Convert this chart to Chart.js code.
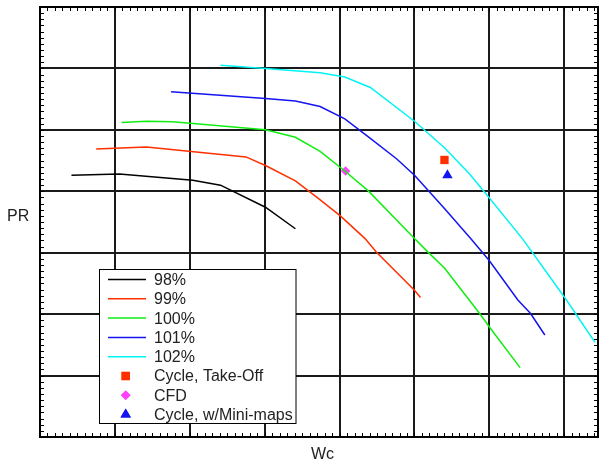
<!DOCTYPE html>
<html>
<head>
<meta charset="utf-8">
<script src="https://cdn.jsdelivr.net/npm/chart.js@4"></script>
<style>
    body { margin: 0; background: #fff; }
    canvas { display: block; }
</style>
</head>
<body>
<canvas id="mapChart" width="604" height="465"></canvas>
<script>
// speed lines (Wc, PR in grid units)
const speedLabels = ['98%', '99%', '100%', '101%', '102%'];
const speedColors = ['#000000', '#ff3000', '#10ee10', '#1414f0', '#00f4f4'];

const wc98 = [0.42, 1.06, 2.04, 2.41, 3.01, 3.41];
const pr98 = [4.26, 4.28, 4.18, 4.10, 3.74, 3.39];

const wc99 = [0.75, 1.42, 2.75, 3.01, 3.41, 3.72, 4.01, 4.34, 4.49, 5.00, 5.08];
const pr99 = [4.69, 4.72, 4.56, 4.42, 4.17, 3.88, 3.60, 3.23, 3.01, 2.39, 2.27];

const wc100 = [1.09, 1.42, 1.77, 3.01, 3.41, 3.74, 4.07, 4.38, 5.00, 5.18, 5.40, 5.87, 6.00, 6.41];
const pr100 = [5.12, 5.14, 5.13, 5.00, 4.88, 4.65, 4.33, 4.01, 3.23, 3.01, 2.75, 2.01, 1.79, 1.13];

const wc101 = [1.75, 3.01, 3.41, 3.74, 4.07, 4.38, 4.76, 5.00, 5.40, 5.75, 6.00, 6.38, 6.55, 6.74];
const pr101 = [5.62, 5.51, 5.47, 5.38, 5.18, 4.89, 4.53, 4.26, 3.72, 3.23, 2.87, 2.23, 2.01, 1.66];

const wc102 = [2.41, 3.01, 3.74, 4.07, 4.41, 5.00, 5.40, 5.73, 6.00, 6.44, 6.57, 7.00, 7.15, 7.41];
const pr102 = [6.05, 6.00, 5.93, 5.86, 5.69, 5.14, 4.71, 4.29, 3.89, 3.23, 3.01, 2.28, 2.01, 1.54];

// single operating points
const pointLabels = ['Cycle, Take-Off', 'CFD', 'Cycle, w/Mini-maps'];
const pointWc = [5.40, 4.08, 5.44];
const pointPr = [4.51, 4.33, 4.26];

const speedWc = [wc98, wc99, wc100, wc101, wc102];
const speedPr = [pr98, pr99, pr100, pr101, pr102];

const toPoints = (xs, ys) => xs.map((x, i) => ({x: x, y: ys[i]}));

const datasets = [];
for (let i = 0; i < speedLabels.length; i++) {
    datasets.push({
        label: speedLabels[i],
        data: toPoints(speedWc[i], speedPr[i]),
        borderColor: speedColors[i],
        borderWidth: 1.5,
        pointRadius: 0,
        showLine: true,
        tension: 0,
    });
}
const pointStyles = [
    {style: 'rect', color: '#ff3000', radius: 5.9},
    {style: 'rectRot', color: '#ff40ff', radius: 4.8},
    {style: 'triangle', color: '#1414f0', radius: 6},
];
for (let i = 0; i < pointLabels.length; i++) {
    datasets.push({
        label: pointLabels[i],
        data: [{x: pointWc[i], y: pointPr[i]}],
        showLine: false,
        pointStyle: pointStyles[i].style,
        pointRadius: pointStyles[i].radius,
        pointBackgroundColor: pointStyles[i].color,
        pointBorderWidth: 0,
        borderColor: pointStyles[i].color,
    });
}

// frame, minor ticks, axis titles and the boxed legend
const mapDecor = {
    id: 'mapDecor',
    afterDraw(chart) {
        const ctx = chart.ctx;
        const a = chart.chartArea;
        const xs = chart.scales.x;
        const ys = chart.scales.y;
        ctx.save();

        ctx.strokeStyle = '#000';
        ctx.lineWidth = 1;
        ctx.beginPath();
        for (let v = 1; v < 74.5; v++) {
            const px = Math.round(xs.getPixelForValue(v / 10)) + 0.5;
            ctx.moveTo(px, a.bottom);
            ctx.lineTo(px, a.bottom - 4);
            ctx.moveTo(px, a.top);
            ctx.lineTo(px, a.top + 4);
        }
        for (let v = 1; v < 70; v++) {
            const py = Math.round(ys.getPixelForValue(v / 10)) + 0.5;
            ctx.moveTo(a.left, py);
            ctx.lineTo(a.left + 4, py);
            ctx.moveTo(a.right, py);
            ctx.lineTo(a.right - 4, py);
        }
        ctx.stroke();

        ctx.lineWidth = 2;
        ctx.strokeRect(a.left, a.top, a.right - a.left, a.bottom - a.top);

        ctx.fillStyle = '#222';
        ctx.font = '16px "Liberation Sans", Arial, sans-serif';
        ctx.textBaseline = 'middle';
        ctx.textAlign = 'left';
        ctx.fillText('PR', 7, 217);
        ctx.textAlign = 'center';
        ctx.fillText('Wc', 322.5, 454.5);

        // legend
        const box = {x: 99.5, y: 269.5, w: 196.5, h: 154};
        ctx.fillStyle = '#fff';
        ctx.fillRect(box.x, box.y, box.w, box.h);
        ctx.lineWidth = 1;
        ctx.strokeStyle = '#000';
        ctx.strokeRect(box.x, box.y, box.w, box.h);
        ctx.textAlign = 'left';
        chart.data.datasets.forEach((ds, i) => {
            const cy = 279.5 + i * 19.3;
            if (ds.showLine) {
                ctx.strokeStyle = ds.borderColor;
                ctx.lineWidth = 1.5;
                ctx.beginPath();
                ctx.moveTo(108, cy);
                ctx.lineTo(146, cy);
                ctx.stroke();
            } else {
                ctx.fillStyle = ds.pointBackgroundColor;
                Chart.helpers.drawPoint(ctx, {
                    pointStyle: ds.pointStyle,
                    radius: ds.pointRadius,
                    rotation: 0,
                    borderWidth: 0,
                }, 125.7, cy);
                ctx.fill();
            }
            ctx.fillStyle = '#222';
            ctx.fillText(ds.label, 154, cy + 1);
        });
        ctx.restore();
    }
};

const gridStyle = {
    color: '#1a1a1a',
    lineWidth: 2,
    drawTicks: false,
};

const config = {
    type: 'line',
    data: {datasets: datasets},
    options: {
        responsive: false,
        animation: false,
        layout: {
            padding: {left: 40, top: 7, right: 1, bottom: 28},
        },
        plugins: {
            legend: {display: false},
            tooltip: {enabled: false},
        },
        scales: {
            x: {
                type: 'linear',
                min: 0,
                max: 7.45,
                afterBuildTicks(scale) {
                    scale.ticks = [0, 1, 2, 3, 4, 5, 6, 7].map(v => ({value: v}));
                },
                ticks: {display: false},
                grid: gridStyle,
                border: {display: false},
            },
            y: {
                type: 'linear',
                min: 0,
                max: 7,
                ticks: {display: false, stepSize: 1},
                grid: gridStyle,
                border: {display: false},
            },
        },
    },
    plugins: [mapDecor],
};

const mapChart = new Chart(document.getElementById('mapChart'), config);
</script>
</body>
</html>
